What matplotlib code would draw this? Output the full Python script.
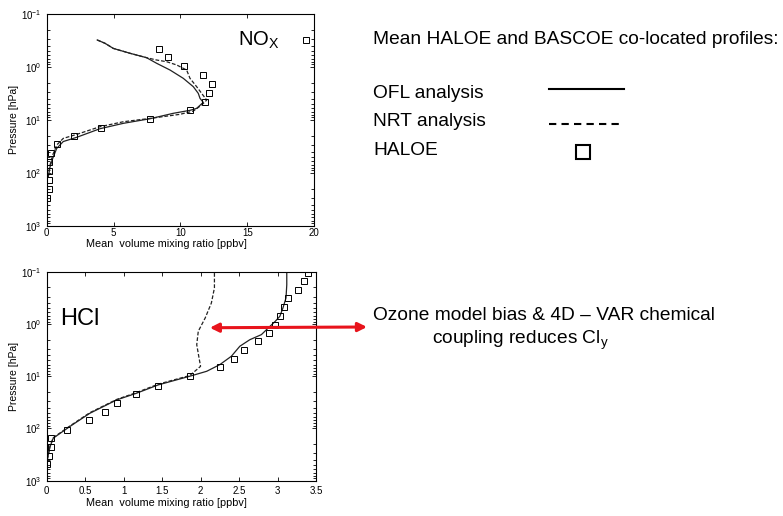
import numpy as np
import matplotlib
matplotlib.use('Agg')
import matplotlib.pyplot as plt
from matplotlib.ticker import LogLocator, LogFormatterSciNotation, MultipleLocator

plt.rcParams['font.family'] = ['Liberation Sans', 'DejaVu Sans']
plt.rcParams['mathtext.fontset'] = 'custom'
plt.rcParams['mathtext.rm'] = 'Liberation Sans'
plt.rcParams['mathtext.it'] = 'Liberation Sans:italic'

# NOx profiles (ppbv vs hPa)
nox_ofl_x = [3.78, 4.36, 4.98, 6.23, 7.47, 8.22, 9.22, 10.21, 10.96, 11.33, 11.46, 11.7,
             11.21, 10.71, 9.46, 7.72, 5.73, 3.98, 2.24, 1.24, 0.75, 0.45, 0.25, 0.12]
nox_ofl_p = [0.31, 0.358, 0.447, 0.553, 0.67, 0.855, 1.146, 1.644, 2.366, 3.16, 3.93, 4.67,
             6.07, 6.61, 7.53, 9.53, 11.64, 14.72, 21.4, 25.7, 34.7, 53.7, 77.6, 120.2]
nox_nrt_x = [3.78, 4.36, 4.98, 6.23, 7.47, 8.22, 8.97, 9.72, 10.46, 10.71, 11.21, 11.58, 11.96,
             11.58, 10.96, 9.96, 7.72, 5.73, 3.98, 2.24, 1.24, 0.75, 0.45, 0.25, 0.12]
nox_nrt_p = [0.31, 0.358, 0.447, 0.553, 0.67, 0.741, 0.798, 0.92, 1.146, 1.644, 2.366, 3.16, 4.23,
             5.25, 6.82, 7.87, 9.4, 10.86, 13.49, 18.84, 22.4, 29.9, 46.2, 71.6, 109.6]
nox_haloe_x = [19.4, 8.42, 9.07, 10.24, 11.71, 12.35, 12.13, 11.83, 10.71, 7.72,
               4.06, 2.06, 0.79, 0.35, 0.15, 0.15, 0.2, 0.2, 0.0]
nox_haloe_p = [0.31, 0.46, 0.66, 0.975, 1.42, 2.08, 3.07, 4.55, 6.44, 9.5,
               14.1, 20.2, 29.0, 43.0, 63.0, 91.6, 138.0, 200.0, 296.0]

# HCl profiles (ppbv vs hPa)
hcl_ofl_x = [3.12, 3.12, 3.11, 3.07, 3.03, 2.97, 2.88, 2.79, 2.64, 2.51, 2.40, 2.25, 2.08, 1.86,
             1.45, 1.17, 0.91, 0.56, 0.30, 0.086, 0.043, 0.008, 0.0]
hcl_ofl_p = [0.106, 0.178, 0.318, 0.494, 0.713, 0.891, 1.19, 1.6, 2.0, 2.67, 4.15, 6.0, 8.04, 10.0,
             14.66, 21.1, 28.4, 51.3, 92.0, 153.1, 223.9, 398.1, 616.6]
hcl_nrt_x = [2.18, 2.18, 2.14, 2.06, 1.97, 1.95, 1.98, 2.0, 1.95, 1.86,
             1.45, 1.17, 0.91, 0.56, 0.30, 0.086, 0.043, 0.008]
hcl_nrt_p = [0.106, 0.204, 0.398, 0.767, 1.38, 2.49, 4.47, 6.46, 7.48, 9.7,
             14.2, 20.5, 27.8, 50.0, 90.0, 150.0, 220.0, 390.0]
hcl_haloe_x = [3.40, 3.35, 3.27, 3.14, 3.09, 3.03, 2.97, 2.89, 2.74, 2.57, 2.43, 2.25, 1.86,
               1.45, 1.16, 0.92, 0.76, 0.55, 0.27, 0.06, 0.056, 0.026, 0.01]
hcl_haloe_p = [0.105, 0.149, 0.224, 0.318, 0.473, 0.713, 1.04, 1.51, 2.14, 3.18, 4.73, 6.73, 10.0,
               15.1, 22.1, 32.0, 47.5, 69.5, 105.0, 150.0, 224.0, 331.0, 479.0]

fig = plt.figure(figsize=(7.83, 5.16), dpi=100)
ax1 = fig.add_axes([0.0596, 0.5626, 0.3418, 0.4103])
ax2 = fig.add_axes([0.0596, 0.0684, 0.3440, 0.4050])


def style_axis(ax, xmax, xstep, xlabel_y):
    ax.set_yscale('log')
    ax.set_ylim(1000, 0.1)
    ax.set_xlim(0, xmax)
    ax.xaxis.set_major_locator(MultipleLocator(xstep))
    ax.yaxis.set_major_locator(LogLocator(base=10))
    ax.yaxis.set_minor_locator(LogLocator(base=10, subs=np.arange(2, 10)))
    ax.yaxis.set_major_formatter(LogFormatterSciNotation())
    ax.tick_params(which='both', direction='in', top=True, right=True, labelsize=7, width=0.6)
    ax.tick_params(which='major', length=3)
    ax.tick_params(which='minor', length=2)
    ax.set_ylabel('Pressure [hPa]', fontsize=7.5, labelpad=2)
    ax.set_xlabel('Mean  volume mixing ratio [ppbv]', fontsize=7.8, va='center')
    ax.xaxis.set_label_coords(0.446, xlabel_y)
    for s in ax.spines.values():
        s.set_linewidth(0.8)


ax1.plot(nox_ofl_x, nox_ofl_p, '-', color='#222222', lw=0.9)
ax1.plot(nox_nrt_x, nox_nrt_p, '--', color='#222222', lw=0.9, dashes=(3, 1.5))
ax1.plot(nox_haloe_x, nox_haloe_p, 's', mfc='none', mec='black', ms=4.5, mew=0.7)
style_axis(ax1, 20, 5, -0.088)
ax1.xaxis.set_major_formatter(plt.FuncFormatter(lambda v, p: '%d' % v))
ax1.tick_params(axis='x', pad=2)
ax1.text(0.715, 0.849, r'NO$_\mathrm{X}$', transform=ax1.transAxes, fontsize=14.5)

ax2.plot(hcl_ofl_x, hcl_ofl_p, '-', color='#222222', lw=0.9)
ax2.plot(hcl_nrt_x, hcl_nrt_p, '--', color='#222222', lw=0.9, dashes=(3, 1.5))
ax2.plot(hcl_haloe_x, hcl_haloe_p, 's', mfc='none', mec='black', ms=4.5, mew=0.7)
style_axis(ax2, 3.5, 0.5, -0.107)
ax2.xaxis.set_major_formatter(plt.FuncFormatter(lambda v, p: '%g' % v))
ax2.text(0.05, 0.745, 'HCl', transform=ax2.transAxes, fontsize=17)

# legend drawn by hand on the right
fs = 13.8
fig.text(373 / 783, 1 - 40 / 516, 'Mean HALOE and BASCOE co-located profiles:', fontsize=fs, va='center')
fig.text(373 / 783, 1 - 94 / 516, 'OFL analysis', fontsize=fs, va='center')
fig.text(373 / 783, 1 - 122 / 516, 'NRT analysis', fontsize=fs, va='center')
fig.text(373 / 783, 1 - 150 / 516, 'HALOE', fontsize=fs, va='center')
fig.add_artist(plt.Line2D([549 / 783, 624 / 783], [1 - 89 / 516, 1 - 89 / 516], color='black', lw=1.5))
fig.add_artist(plt.Line2D([549 / 783, 624 / 783], [1 - 124 / 516, 1 - 124 / 516], color='black', lw=1.5,
                          ls='--', dashes=(3.5, 2.5)))
fig.add_artist(plt.Line2D([583 / 783], [1 - 152 / 516], marker='s', ms=10, mfc='none', mec='black', mew=1.5))

# annotation for HCl
fig.text(373 / 783, 1 - 316 / 516, 'Ozone model bias & 4D \u2013 VAR chemical', fontsize=fs, va='center')
fig.text(432 / 783, 1 - 340 / 516, r'coupling reduces Cl$_\mathrm{y}$', fontsize=fs, va='center')
ax2.annotate('', xy=(2.12, 1.18), xycoords='data', xytext=(367 / 783, 1 - 327 / 516),
             textcoords='figure fraction', annotation_clip=False,
             arrowprops=dict(arrowstyle='<|-|>', color='#e8141c', lw=2.2, mutation_scale=13,
                             shrinkA=0, shrinkB=0))

plt.savefig('out.png', dpi=100)
